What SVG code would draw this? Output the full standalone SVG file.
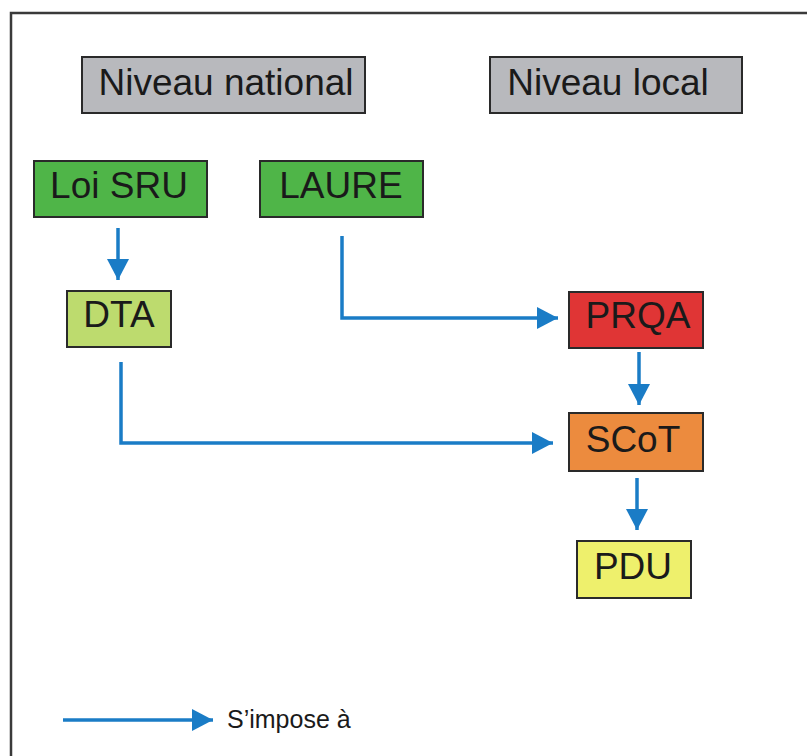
<svg xmlns="http://www.w3.org/2000/svg" width="807" height="756" viewBox="0 0 807 756">
<defs>
<style>
.box{stroke:#2a2a2a;stroke-width:2}
.lbl{font-family:"Liberation Sans",Arial,sans-serif;font-size:37px;fill:#1a1a1a;text-anchor:middle}
.conn{fill:none;stroke:#1a7cc6;stroke-width:3.5}
</style>
<marker id="ah" markerUnits="userSpaceOnUse" markerWidth="22" markerHeight="24" refX="21" refY="12" orient="auto">
<path d="M0,1 L21,12 L0,23 z" fill="#1a7cc6"/>
</marker>
</defs>
<rect x="0" y="0" width="807" height="756" fill="#ffffff"/>
<rect x="11" y="13" width="830" height="800" fill="none" stroke="#3a3a3a" stroke-width="2.5"/>
<g id="niveau-national"><rect class="box" x="82" y="57" width="283" height="56" fill="#b8b9bd"/><text class="lbl" x="226" y="95">Niveau national</text></g>
<g id="niveau-local"><rect class="box" x="490" y="57" width="252" height="56" fill="#b8b9bd"/><text class="lbl" x="608" y="95">Niveau local</text></g>
<g id="loi-sru"><rect class="box" x="34" y="161" width="173" height="56" fill="#4fb548"/><text class="lbl" x="119" y="198">Loi SRU</text></g>
<g id="laure"><rect class="box" x="260" y="161" width="163" height="56" fill="#4fb548"/><text class="lbl" x="341" y="198">LAURE</text></g>
<g id="dta"><rect class="box" x="67" y="291" width="104" height="56" fill="#bddb6e"/><text class="lbl" x="119" y="327">DTA</text></g>
<g id="prqa"><rect class="box" x="569" y="292" width="134" height="56" fill="#e03535"/><text class="lbl" x="638" y="328">PRQA</text></g>
<g id="scot"><rect class="box" x="569" y="413" width="134" height="58" fill="#ec8b3e"/><text class="lbl" x="633" y="452">SCoT</text></g>
<g id="pdu"><rect class="box" x="577" y="541" width="114" height="57" fill="#eef06c"/><text class="lbl" x="633" y="579">PDU</text></g>
<g id="connectors">
<path class="conn" marker-end="url(#ah)" d="M118,228 V280"/>
<path class="conn" marker-end="url(#ah)" d="M342,236 V318 H558"/>
<path class="conn" marker-end="url(#ah)" d="M639,352 V405"/>
<path class="conn" marker-end="url(#ah)" d="M121,362 V443 H553"/>
<path class="conn" marker-end="url(#ah)" d="M637,478 V530"/>
</g>
<g id="legend">
<path class="conn" marker-end="url(#ah)" d="M63,720 H213"/>
<text x="227" y="728" font-family="'Liberation Sans',Arial,sans-serif" font-size="25" fill="#1a1a1a">S’impose à</text>
</g>
</svg>
